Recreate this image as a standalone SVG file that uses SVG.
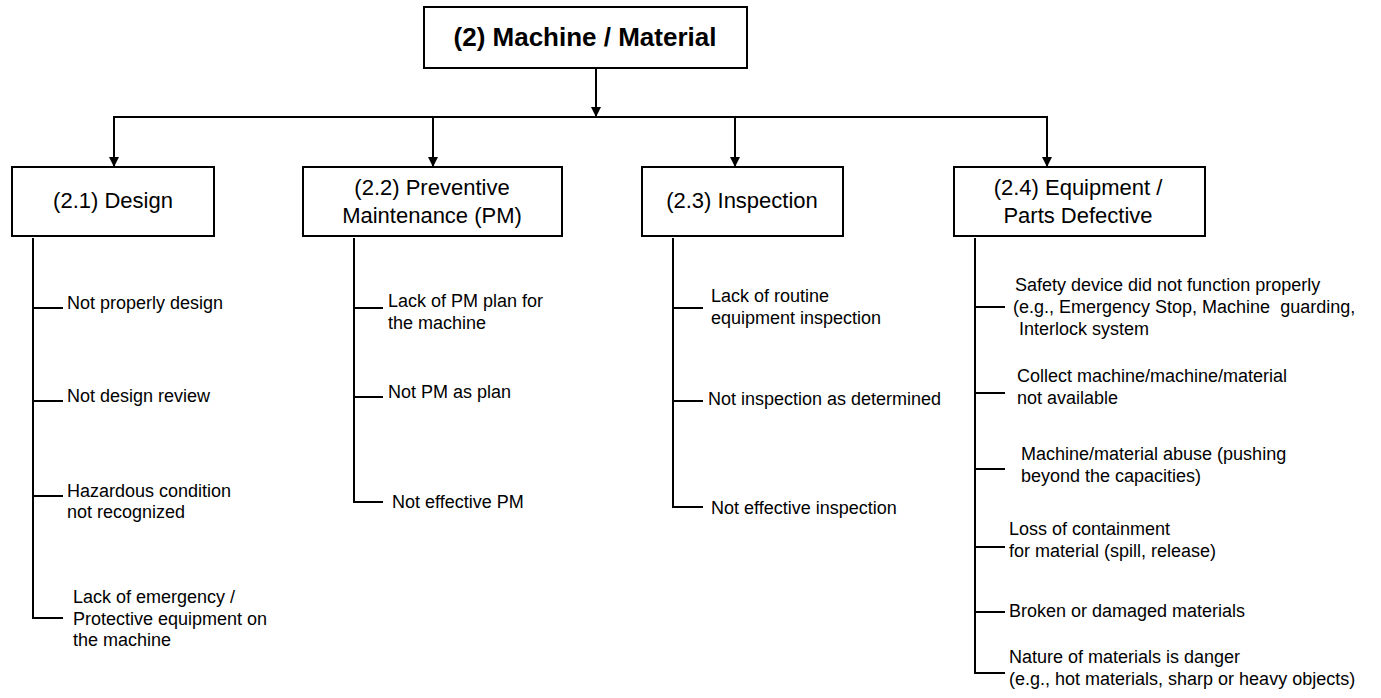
<svg xmlns="http://www.w3.org/2000/svg" width="1381" height="698" viewBox="0 0 1381 698">
<style>
.box{fill:#fff;stroke:#000;stroke-width:2}
.ln{fill:none;stroke:#000;stroke-width:2}
.t{font-family:"Liberation Sans",Arial,sans-serif;font-size:18px;fill:#000}
.bt{font-family:"Liberation Sans",Arial,sans-serif;font-size:22px;fill:#000;text-anchor:middle}
.tt{font-family:"Liberation Sans",Arial,sans-serif;font-size:26px;font-weight:bold;fill:#000;text-anchor:middle}
</style>
<defs>
<marker id="arr" viewBox="0 0 10 10" refX="10" refY="5" markerWidth="10" markerHeight="10" markerUnits="userSpaceOnUse" orient="auto">
<path d="M0,0 L10,5 L0,10 Z" fill="#000"/>
</marker>
</defs>
<rect width="1381" height="698" fill="#fff"/>
<g id="connectors">
<line class="ln" x1="596" y1="68" x2="596" y2="117" marker-end="url(#arr)"/>
<line class="ln" x1="113" y1="117" x2="1048" y2="117"/>
<line class="ln" x1="114" y1="116" x2="114" y2="167" marker-end="url(#arr)"/>
<line class="ln" x1="433" y1="116" x2="433" y2="167" marker-end="url(#arr)"/>
<line class="ln" x1="735" y1="116" x2="735" y2="167" marker-end="url(#arr)"/>
<line class="ln" x1="1047" y1="116" x2="1047" y2="167" marker-end="url(#arr)"/>
<path class="ln" d="M33,238 V619 M33,308 H63 M33,401 H63 M33,496 H63 M33,618 H63"/>
<path class="ln" d="M354,238 V503 M354,308 H383 M354,397 H383 M354,502 H383"/>
<path class="ln" d="M673,238 V508 M673,308 H703 M673,401 H703 M673,507 H703"/>
<path class="ln" d="M975,238 V674 M975,307 H1005 M975,393 H1005 M975,469 H1005 M975,547 H1005 M975,612 H1005 M975,673 H1005"/>
</g>
<g id="n2">
<rect class="box" x="424" y="7" width="323" height="61"/>
<text class="tt" x="585" y="46">(2) Machine / Material</text>
</g>
<g id="n21">
<rect class="box" x="12" y="167" width="202" height="69"/>
<text class="bt" x="113" y="208">(2.1) Design</text>
</g>
<g id="n22">
<rect class="box" x="303" y="167" width="259" height="69"/>
<text class="bt" x="432" y="195">(2.2) Preventive</text>
<text class="bt" x="432" y="223">Maintenance (PM)</text>
</g>
<g id="n23">
<rect class="box" x="642" y="167" width="201" height="69"/>
<text class="bt" x="742" y="208">(2.3) Inspection</text>
</g>
<g id="n24">
<rect class="box" x="954" y="167" width="251" height="69"/>
<text class="bt" x="1078" y="195">(2.4) Equipment /</text>
<text class="bt" x="1078" y="223">Parts Defective</text>
</g>
<g id="items21">
<text class="t" x="67" y="309">Not properly design</text>
<text class="t" x="67" y="402">Not design review</text>
<text class="t" x="67" y="497">Hazardous condition</text>
<text class="t" x="67" y="518">not recognized</text>
<text class="t" x="73" y="603">Lack of emergency /</text>
<text class="t" x="73" y="625">Protective equipment on</text>
<text class="t" x="73" y="646">the machine</text>
</g>
<g id="items22">
<text class="t" x="388" y="307">Lack of PM plan for</text>
<text class="t" x="388" y="329">the machine</text>
<text class="t" x="388" y="398">Not PM as plan</text>
<text class="t" x="392" y="508">Not effective PM</text>
</g>
<g id="items23">
<text class="t" x="711" y="302">Lack of routine</text>
<text class="t" x="711" y="324">equipment inspection</text>
<text class="t" x="708" y="405">Not inspection as determined</text>
<text class="t" x="711" y="514">Not effective inspection</text>
</g>
<g id="items24">
<text class="t" x="1015" y="291">Safety device did not function properly</text>
<text class="t" x="1013" y="313" xml:space="preserve">(e.g., Emergency Stop, Machine  guarding,</text>
<text class="t" x="1019" y="335">Interlock system</text>
<text class="t" x="1017" y="382">Collect machine/machine/material</text>
<text class="t" x="1017" y="404">not available</text>
<text class="t" x="1021" y="460">Machine/material abuse (pushing</text>
<text class="t" x="1021" y="482">beyond the capacities)</text>
<text class="t" x="1009" y="535">Loss of containment</text>
<text class="t" x="1009" y="557">for material (spill, release)</text>
<text class="t" x="1009" y="617">Broken or damaged materials</text>
<text class="t" x="1009" y="663">Nature of materials is danger</text>
<text class="t" x="1009" y="685">(e.g., hot materials, sharp or heavy objects)</text>
</g>
</svg>
